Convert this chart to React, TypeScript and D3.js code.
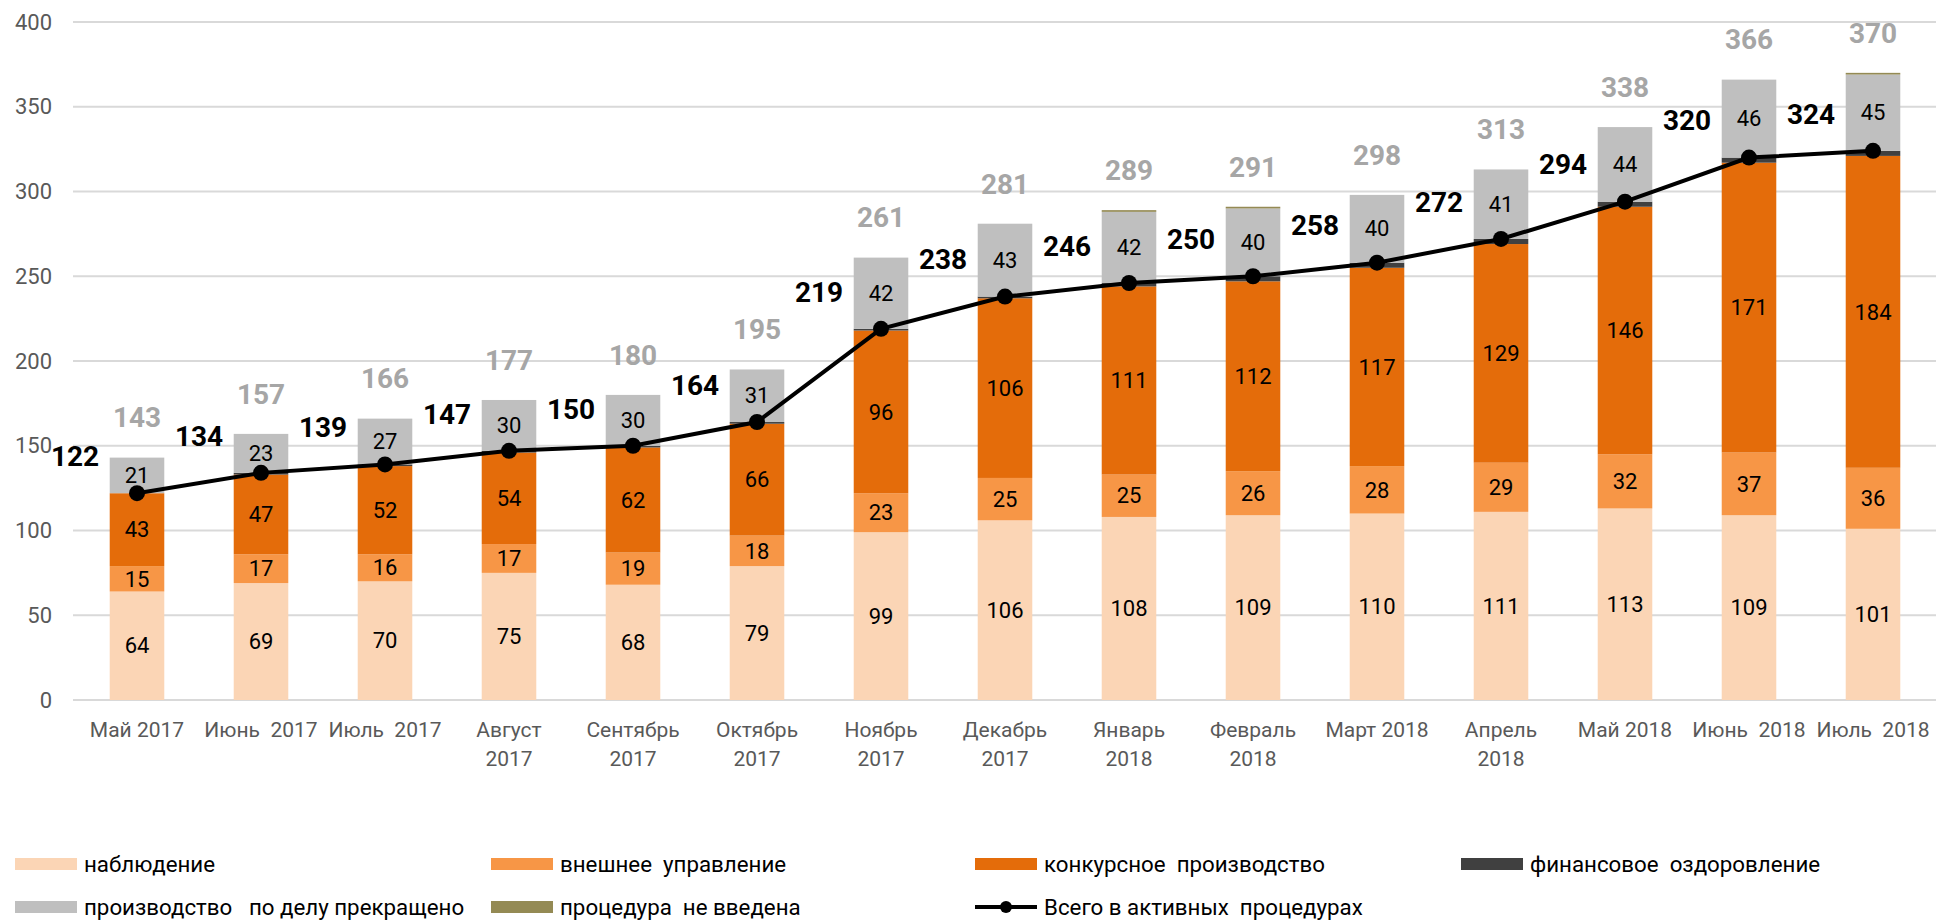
import React, { useEffect } from 'react';
import * as d3 from 'd3';

// month labels (line breaks as on the original axis)
const months = [
  'Май 2017', 'Июнь  2017', 'Июль  2017', 'Август\n2017', 'Сентябрь\n2017',
  'Октябрь\n2017', 'Ноябрь\n2017', 'Декабрь\n2017', 'Январь\n2018', 'Февраль\n2018',
  'Март 2018', 'Апрель\n2018', 'Май 2018', 'Июнь  2018', 'Июль  2018',
];

const observation = [64, 69, 70, 75, 68, 79, 99, 106, 108, 109, 110, 111, 113, 109, 101];
const externalMgmt = [15, 17, 16, 17, 19, 18, 23, 25, 25, 26, 28, 29, 32, 37, 36];
const bankruptcy = [43, 47, 52, 54, 62, 66, 96, 106, 111, 112, 117, 129, 146, 171, 184];
const recovery = [0, 1, 1, 1, 1, 1, 1, 1, 2, 3, 3, 3, 3, 3, 3];
const terminated = [21, 23, 27, 30, 30, 31, 42, 43, 42, 40, 40, 41, 44, 46, 45];
const notIntroduced = [0, 0, 0, 0, 0, 0, 0, 0, 1, 1, 0, 0, 0, 0, 1];

const activeTotal = [122, 134, 139, 147, 150, 164, 219, 238, 246, 250, 258, 272, 294, 320, 324];
const grandTotal = [143, 157, 166, 177, 180, 195, 261, 281, 289, 291, 298, 313, 338, 366, 370];

const yTicks = [0, 50, 100, 150, 200, 250, 300, 350, 400];

const seriesKeys = ['obs', 'ext', 'bank', 'rec', 'term', 'noint'];
const seriesNames = [
  'наблюдение', 'внешнее  управление', 'конкурсное  производство',
  'финансовое  оздоровление', 'производство   по делу прекращено', 'процедура  не введена',
];
const seriesColors = ['#FBD5B5', '#F79646', '#E46C0A', '#404040', '#BFBFBF', '#948A54'];
const labelled = [true, true, true, false, true, false];

export default function App() {
  useEffect(() => {
    document.body.style.margin = '0';
  }, []);

  const width = 1936;
  const height = 921;

  const x = d3.scaleBand<string>().domain(months).range([75, 1935]).paddingInner(0.56).paddingOuter(0.28);
  const y = d3.scaleLinear().domain([0, 400]).range([700, 22]);

  const rows = months.map((m, i) => ({
    m,
    obs: observation[i],
    ext: externalMgmt[i],
    bank: bankruptcy[i],
    rec: recovery[i],
    term: terminated[i],
    noint: notIntroduced[i],
  }));
  const stacked = d3.stack<any>().keys(seriesKeys)(rows);

  const cx = (m: string) => (x(m) as number) + x.bandwidth() / 2;

  const line = d3
    .line<number>()
    .x((d, i) => cx(months[i]))
    .y(d => y(d));

  const font = 'Roboto, "Noto Sans", sans-serif';

  const legendX = [15, 491, 975, 1461];
  const legendItems = [
    { name: seriesNames[0], color: seriesColors[0], col: 0, row: 0 },
    { name: seriesNames[1], color: seriesColors[1], col: 1, row: 0 },
    { name: seriesNames[2], color: seriesColors[2], col: 2, row: 0 },
    { name: seriesNames[3], color: seriesColors[3], col: 3, row: 0 },
    { name: seriesNames[4], color: seriesColors[4], col: 0, row: 1 },
    { name: seriesNames[5], color: seriesColors[5], col: 1, row: 1 },
    { name: 'Всего в активных  процедурах', color: '#000', col: 2, row: 1, line: true },
  ];

  return (
    <svg width={width} height={height} style={{ display: 'block', background: '#fff' }}>
      {/* grid + y axis */}
      {yTicks.map(t => (
        <g key={t}>
          <line x1={73} x2={1936} y1={y(t)} y2={y(t)} stroke="#d9d9d9" strokeWidth={2} />
          <text x={52} y={y(t)} dy="0.35em" textAnchor="end" fill="#595959" fontSize={22} fontFamily={font}>
            {t}
          </text>
        </g>
      ))}

      {/* stacked bars */}
      {stacked.map((s, si) => (
        <g key={s.key} fill={seriesColors[si]}>
          {s.map((d, i) => {
            const h = y(d[0]) - y(d[1]);
            if (h <= 0) return null;
            return (
              <rect key={i} x={x(months[i])} y={y(d[1])} width={x.bandwidth()} height={h} />
            );
          })}
        </g>
      ))}

      {/* segment labels */}
      {stacked.map((s, si) =>
        labelled[si]
          ? s.map((d, i) => (
              <text
                key={s.key + i}
                x={cx(months[i])}
                y={y((d[0] + d[1]) / 2)}
                dy="0.35em"
                textAnchor="middle"
                fontSize={22}
                fontFamily={font}
                fill="#000"
              >
                {d[1] - d[0]}
              </text>
            ))
          : null
      )}

      {/* grand totals */}
      {grandTotal.map((v, i) => (
        <text
          key={'gt' + i}
          x={cx(months[i])}
          y={y(v) - 40}
          dy="0.35em"
          textAnchor="middle"
          fontSize={28}
          fontWeight="bold"
          fontFamily={font}
          fill="#A6A6A6"
        >
          {v}
        </text>
      ))}

      {/* active total line */}
      <path d={line(activeTotal) || ''} fill="none" stroke="#000" strokeWidth={4} />
      {activeTotal.map((v, i) => (
        <g key={'at' + i}>
          <circle cx={cx(months[i])} cy={y(v)} r={8} fill="#000" />
          <text
            x={cx(months[i]) - 62}
            y={y(v) - 37}
            dy="0.35em"
            textAnchor="middle"
            fontSize={28}
            fontWeight="bold"
            fontFamily={font}
            fill="#000"
          >
            {v}
          </text>
        </g>
      ))}

      {/* x axis labels */}
      {months.map(m => (
        <text key={m} x={cx(m)} y={737} textAnchor="middle" fontSize={21} fontFamily={font} fill="#595959">
          {m.split('\n').map((ln, k) => (
            <tspan key={k} x={cx(m)} dy={k === 0 ? 0 : 29} style={{ whiteSpace: 'pre' }}>
              {ln}
            </tspan>
          ))}
        </text>
      ))}

      {/* legend */}
      {legendItems.map(it => {
        const lx = legendX[it.col];
        const ly = it.row === 0 ? 864 : 907;
        return (
          <g key={it.name}>
            {it.line ? (
              <g>
                <line x1={lx} x2={lx + 62} y1={ly} y2={ly} stroke="#000" strokeWidth={4} />
                <circle cx={lx + 31} cy={ly} r={6} fill="#000" />
              </g>
            ) : (
              <rect x={lx} y={ly - 6} width={62} height={12} fill={it.color} />
            )}
            <text
              x={lx + 69}
              y={ly}
              dy="0.35em"
              fontSize={22.3}
              fontFamily={font}
              fill="#000"
              style={{ whiteSpace: 'pre' }}
            >
              {it.name}
            </text>
          </g>
        );
      })}
    </svg>
  );
}
